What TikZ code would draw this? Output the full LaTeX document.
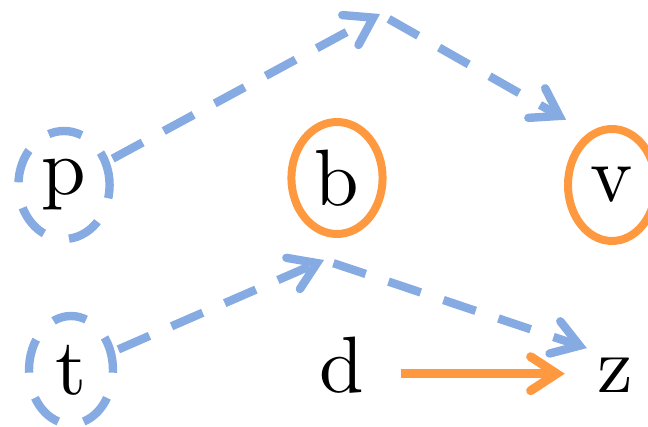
\documentclass[tikz,border=0pt]{standalone}
\usepackage{fontspec}
\setmainfont{lmroman10-regular}[Extension=.otf]
\usetikzlibrary{arrows.meta,shapes.geometric}
\definecolor{hidblue}{RGB}{134,170,226}
\definecolor{obsorange}{RGB}{255,153,64}
\begin{document}
\begin{tikzpicture}[x=0.5pt, y=-0.5pt,
    var/.style={font=\fontsize{40}{42}\selectfont, inner sep=5pt},
    latent/.style={var, ellipse, draw=hidblue, line width=4.2pt, dash pattern=on 17pt off 13pt,
                   minimum width=42pt, minimum height=54pt},
    observed/.style={var, ellipse, draw=obsorange, line width=4pt,
                     minimum width=40.5pt, minimum height=56pt},
    hid/.style={hidblue, line width=4.2pt, dash pattern=on 17pt off 12pt,
                -{Straight Barb[length=13pt, width=17pt, line cap=round]}},
    obs/.style={obsorange, line width=4.5pt,
                -{Straight Barb[length=13pt, width=17pt, line cap=round]}}]
    \useasboundingbox (0,0) rectangle (648,427);
    \node[latent] (p) at (64,185) {p};
    \node[observed] (b) at (337,178) {b};
    \node[observed] (v) at (612,185) {v};
    \node[latent] (t) at (71,370) {t};
    \node[var, anchor=base] (d) at (342,393) {d};
    \node[var, anchor=base] (z) at (615,393) {z};
    \coordinate (pv) at (380,14);
    \coordinate (tz) at (324,260);
    % dashed paths through the hidden points
    \draw[hid, shorten <=2pt] (p) -- (pv);
    \draw[hid, shorten <=5pt, shorten >=13pt] (pv) -- (v.114);
    \draw[hid, shorten <=2pt] (t) -- (tz);
    \draw[hid, shorten <=5pt] (tz) -- (z.north west);
    \draw[obs, shorten <=13pt, shorten >=11pt] ([yshift=-4pt]d.east) -- ([yshift=-4pt]d.east -| z.west);
\end{tikzpicture}
\end{document}
